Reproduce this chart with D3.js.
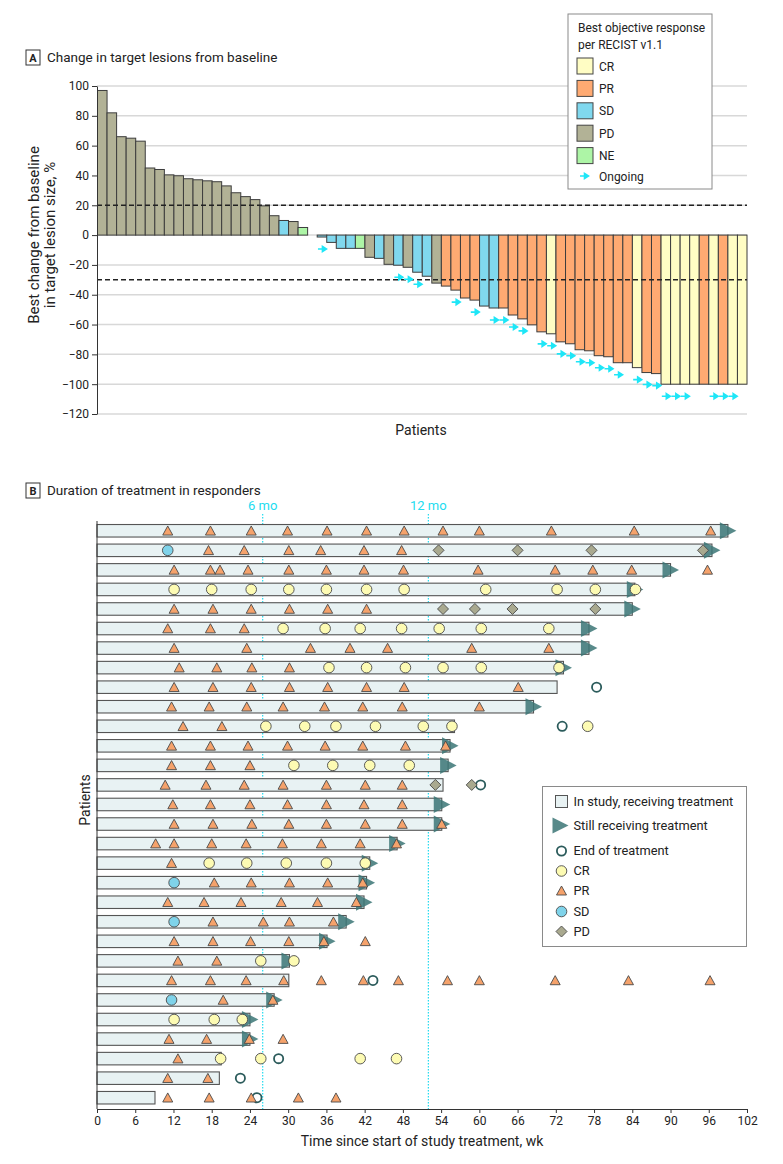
<!DOCTYPE html>
<html>
<head>
<meta charset="utf-8">
<script src="https://cdn.jsdelivr.net/npm/d3@7"></script>
<style>
body { margin: 0; background: #fff; }
svg text { font-family: Roboto, "Liberation Sans", sans-serif; fill: #222; }
</style>
</head>
<body>
<div id="vis-svg"></div>
<script>
var width = 783;
var height = 1164;

// ---- panel A: best change in target lesions (one value per patient) ----
var changePct = [97, 82, 66, 65, 63, 45, 44, 40.4, 39.8, 37.8, 37.1, 36.4, 35.8, 33, 28.4, 25.8, 23.8, 19.6, 13, 9.8, 9.1, 5.1, 0,
  -1.3, -4.9, -8.9, -8.9, -8.9, -14.9, -15.6, -19.6, -20.2, -21.6, -24.9, -27.6, -32.2, -34.2, -36.9, -42.2, -43.6, -47.6, -48.9,
  -48.9, -53.6, -56.2, -60.2, -64.9, -66.2, -71.6, -72.9, -76.9, -77.6, -80.9, -81.6, -85.6, -85.6, -88.9, -92.2, -92.9,
  -100, -100, -100, -100, -100, -100, -100, -100, -100];
var bestResponse = ["PD","PD","PD","PD","PD","PD","PD","PD","PD","PD","PD","PD","PD","PD","PD","PD","PD","PD","PD","SD","PD","NE","SD",
  "SD","SD","SD","SD","NE","PD","SD","PD","SD","PD","SD","SD","PD","PR","PR","PR","PR","SD","SD",
  "PR","PR","PR","PR","PR","CR","PR","PR","PR","PR","PR","PR","PR","PR","CR","PR","PR",
  "CR","CR","CR","CR","PR","CR","PR","CR","CR"];
var ongoingPatients = [24, 32, 33, 34, 38, 40, 42, 43, 44, 45, 47, 48, 49, 50, 51, 52, 53, 54, 55, 57, 58, 59, 60, 61, 62, 65, 66, 67];
var yTicksA = [-120, -100, -80, -60, -40, -20, 0, 20, 40, 60, 80, 100];
var cutoffs = [20, -30];
var responseCats = ["CR", "PR", "SD", "PD", "NE"];
var responseColors = ["#fffdc4", "#ffaa72", "#80d8ee", "#b2b296", "#adf5a6"];

// ---- panel B: duration of treatment in responders ----
var durationWk = [99, 96.5, 90, 84.4, 84, 77.2, 77.2, 73.2, 72.2, 68.5, 56.1, 55.4, 55.1, 54.3, 54.1, 54.1, 47.1, 42.8, 42.3, 41.9,
  39.1, 36.1, 30.2, 30.1, 27.8, 24, 24, 19.5, 19.2, 9.1];
var stillOnTx = [1, 1, 1, 1, 1, 1, 1, 1, 0, 1, 0, 1, 1, 0, 1, 1, 1, 1, 1, 1, 1, 1, 1, 0, 1, 1, 1, 0, 0, 0];
var endOfTxWk = [null, null, null, null, null, null, null, null, 78.4, null, 73, null, null, 60.2, null, null, null, null, null, null,
  null, null, null, 43.3, null, null, null, 28.5, 22.5, 25.1];
var crWeeks = [[], [], [], [12.1, 18, 24.2, 30.1, 36, 42.3, 48.2, 61, 72.2, 78.2, 84.5], [], [29.2, 35.8, 41.3, 47.8, 53.7, 60.3, 70.9], [],
  [36.4, 42.3, 48.4, 54.3, 60.3, 72.5], [], [], [26.5, 32.6, 37.5, 43.7, 51.2, 55.7, 77], [], [30.9, 37, 42.8, 49], [], [], [], [],
  [17.6, 23.5, 29.7, 36, 42.1], [], [], [], [], [25.7, 30.9], [], [], [12.1, 18.4, 22.8], [], [19.4, 25.7, 41.3, 47], [], []];
var prWeeks = [[11.1, 17.8, 24.2, 29.9, 36.1, 42.3, 48.2, 54.3, 60, 71.3, 84.3, 96.3],
  [17.5, 23.1, 30.1, 35.1, 41.9, 47.8],
  [12.1, 17.8, 19.3, 23.7, 30.1, 36, 41.9, 48.1, 59.8, 71.9, 77.8, 83.9, 95.8],
  [],
  [12.1, 18.2, 24.2, 30.2, 36.2, 42.3],
  [11.1, 17.8, 23.1],
  [12.1, 23.5, 33.5, 39.7, 45.6, 58.8, 70.9],
  [12.9, 18.8, 24.3, 30.2],
  [12.1, 18.2, 24.2, 30.2, 36.2, 42.3, 48.2, 66.1],
  [11.7, 17.6, 23.5, 29.2, 35.7, 41.7, 47.9, 60],
  [13.5, 19.6],
  [11.7, 17.8, 23.7, 29.9, 35.8, 41.7, 48.4, 54.7],
  [11.7, 17.8, 24],
  [10.7, 17.1, 23.1, 29.2, 36, 42.1, 47.9],
  [11.9, 17.8, 24, 29.9, 36, 41.9, 47.9],
  [12.1, 18.2, 24.3, 30.1, 36, 42.1, 47.9, 54.1],
  [9.2, 12.1, 18, 23.4, 29.1, 35.2, 41.3, 47],
  [11.7],
  [18.4, 24.2, 30.2, 36.2, 41.7],
  [11.1, 16.8, 22.6, 28.9, 34.6, 40.7],
  [18.2, 26.1, 30.2, 37.1],
  [12.1, 18.2, 24.1, 30.1, 35.6, 42.1],
  [12.7, 18.8],
  [11.7, 17.8, 23.4, 29.3, 35.2, 41.8, 47.3, 55, 60, 71.9, 83.4, 96.2],
  [19.8, 27.6],
  [],
  [11.3, 17.2, 23.9, 29.2],
  [12.7],
  [11.1, 17.4],
  [11.1, 17.6, 24.2, 31.6, 37.5]];
var sdWeeks = [[], [11.1], [], [], [], [], [], [], [], [], [], [], [], [], [], [], [], [], [12.1], [], [12.1], [], [], [], [11.7], [], [], [], [], []];
var pdWeeks = [[], [53.6, 66, 77.6, 95.1], [], [], [54.3, 59.3, 65.2, 78.2], [], [], [], [], [], [], [], [], [53.1, 58.8], [], [], [], [], [], [],
  [], [], [], [], [], [], [], [], [], []];
var xTicksB = [0, 6, 12, 18, 24, 30, 36, 42, 48, 54, 60, 66, 72, 78, 84, 90, 96, 102];
var monthMarks = [26, 52];
var monthLabels = ["6 mo", "12 mo"];

var svg = d3
.select("#vis-svg")
.append("svg")
.attr("width", width)
.attr("height", height);

// ================= panel A =================
var xA = d3.scaleBand().domain(d3.range(changePct.length)).range([97.5, 747]).paddingInner(0);
var yA = d3.scaleLinear().domain([-120, 100]).range([414, 86]);
var colorA = d3.scaleOrdinal().domain(responseCats).range(responseColors);

var gA = svg.append("g").attr("class", "panelA");

// panel label
gA.append("rect").attr("x", 26).attr("y", 50).attr("width", 14).attr("height", 15)
.attr("fill", "#fff").attr("stroke", "#333").attr("stroke-width", 1);
gA.append("text").attr("x", 33).attr("y", 62).attr("text-anchor", "middle")
.style("font-size", "11px").style("font-weight", "bold").text("A");
gA.append("text").attr("x", 47).attr("y", 62).style("font-size", "13.5px")
.text("Change in target lesions from baseline");

// grid
gA.selectAll("line.grid").data(yTicksA).enter().append("line")
.attr("class", "grid")
.attr("x1", 97).attr("x2", 747)
.attr("y1", function(d) { return yA(d); }).attr("y2", function(d) { return yA(d); })
.attr("stroke", "#d8d8d8").attr("stroke-width", 1.5);

// bars
gA.selectAll("rect.bar").data(changePct).enter().append("rect")
.attr("class", "bar")
.attr("x", function(d, i) { return xA(i); })
.attr("width", xA.bandwidth())
.attr("y", function(d) { return yA(Math.max(0, d)); })
.attr("height", function(d) { return Math.abs(yA(d) - yA(0)); })
.attr("fill", function(d, i) { return colorA(bestResponse[i]); })
.attr("stroke", "#3d3d3d").attr("stroke-width", 1);

// cutoff lines
gA.selectAll("line.cut").data(cutoffs).enter().append("line")
.attr("class", "cut")
.attr("x1", 97).attr("x2", 747)
.attr("y1", function(d) { return yA(d); }).attr("y2", function(d) { return yA(d); })
.attr("stroke", "#222").attr("stroke-width", 1.4).attr("stroke-dasharray", "5,3");

// ongoing arrows
function arrowPath(cx, cy) {
  return "M" + (cx - 4) + "," + cy + "H" + (cx + 0.5) +
    "M" + (cx + 0.5) + "," + (cy - 2.6) + "L" + (cx + 4.5) + "," + cy + "L" + (cx + 0.5) + "," + (cy + 2.6) + "Z";
}
gA.selectAll("path.ongo").data(ongoingPatients).enter().append("path")
.attr("class", "ongo")
.attr("d", function(p) {
  var i = p - 1;
  return arrowPath(xA(i) + xA.bandwidth() / 2, yA(Math.min(0, changePct[i])) + 12);
})
.attr("fill", "#1ee6f7").attr("stroke", "#1ee6f7").attr("stroke-width", 1.6);

// y axis
var axisA = gA.append("g").attr("transform", "translate(97,0)")
.call(d3.axisLeft(yA).tickValues(yTicksA).tickSize(5).tickSizeOuter(0));
axisA.selectAll("text").style("font-size", "12px").attr("fill", "#222");
axisA.selectAll("path, line").attr("stroke", "#333");

var yTitleA = gA.append("text").attr("transform", "translate(34,235) rotate(-90)")
.attr("text-anchor", "middle").style("font-size", "15px");
yTitleA.append("tspan").attr("x", 0).attr("dy", "0.35em").text("Best change from baseline");
yTitleA.append("tspan").attr("x", 0).attr("dy", "1.07em").text("in target lesion size, %");

gA.append("text").attr("x", 421).attr("y", 435).attr("text-anchor", "middle")
.style("font-size", "14px").text("Patients");

// legend A
var legA = gA.append("g").attr("transform", "translate(568,14)");
legA.append("rect").attr("width", 144).attr("height", 175)
.attr("fill", "#fff").attr("stroke", "#8a8a8a").attr("stroke-width", 1);
legA.append("text").attr("x", 10).attr("y", 18).style("font-size", "12px").text("Best objective response");
legA.append("text").attr("x", 10).attr("y", 35).style("font-size", "12px").text("per RECIST v1.1");
var legRows = legA.selectAll("g.item").data(responseCats).enter().append("g")
.attr("class", "item")
.attr("transform", function(d, i) { return "translate(9," + (44 + i * 22.4) + ")"; });
legRows.append("rect").attr("width", 16).attr("height", 16)
.attr("fill", function(d) { return colorA(d); }).attr("stroke", "#444");
legRows.append("text").attr("x", 22).attr("y", 12.5).style("font-size", "12px").text(function(d) { return d; });
legA.append("path").attr("d", arrowPath(16, 162))
.attr("fill", "#1ee6f7").attr("stroke", "#1ee6f7").attr("stroke-width", 1.6);
legA.append("text").attr("x", 31).attr("y", 166.5).style("font-size", "12px").text("Ongoing");

// ================= panel B =================
var xB = d3.scaleLinear().domain([0, 102]).range([97, 747]);
var yB = d3.scaleBand().domain(d3.range(durationWk.length)).range([521, 1107.5]).paddingInner(0.36).paddingOuter(0.18);
var barH = yB.bandwidth();
function rowMid(i) { return yB(i) + barH / 2; }

var gB = svg.append("g").attr("class", "panelB");

gB.append("rect").attr("x", 26).attr("y", 483).attr("width", 14).attr("height", 15)
.attr("fill", "#fff").attr("stroke", "#333").attr("stroke-width", 1);
gB.append("text").attr("x", 33).attr("y", 495).attr("text-anchor", "middle")
.style("font-size", "11px").style("font-weight", "bold").text("B");
gB.append("text").attr("x", 47).attr("y", 495).style("font-size", "13.5px")
.text("Duration of treatment in responders");

// month reference lines
gB.selectAll("line.mo").data(monthMarks).enter().append("line")
.attr("class", "mo")
.attr("x1", function(d) { return xB(d); }).attr("x2", function(d) { return xB(d); })
.attr("y1", 514).attr("y2", 1109)
.attr("stroke", "#22dcf0").attr("stroke-width", 1.2).attr("stroke-dasharray", "1.5,1.5");
gB.selectAll("text.mo").data(monthMarks).enter().append("text")
.attr("class", "mo")
.attr("x", function(d) { return xB(d); }).attr("y", 510)
.attr("text-anchor", "middle").style("font-size", "13px").style("fill", "#22dcf0")
.text(function(d, i) { return monthLabels[i]; });

// treatment bars
gB.selectAll("rect.dur").data(durationWk).enter().append("rect")
.attr("class", "dur")
.attr("x", xB(0))
.attr("y", function(d, i) { return yB(i); })
.attr("width", function(d) { return xB(d) - xB(0); })
.attr("height", barH)
.attr("fill", "#e8f2f3").attr("stroke", "#555").attr("stroke-width", 1.1);

// still receiving treatment
var stillRows = d3.range(durationWk.length).filter(function(i) { return stillOnTx[i]; });
gB.selectAll("path.still").data(stillRows).enter().append("path")
.attr("class", "still")
.attr("d", function(i) {
  var x = xB(durationWk[i]), y = rowMid(i);
  return "M" + (x - 8) + "," + (y - 8.5) + "L" + (x + 8.5) + "," + y + "L" + (x - 8) + "," + (y + 8.5) + "Z";
})
.attr("fill", "#3b7575").attr("fill-opacity", 0.85);

// flatten assessment weeks into points
function flatten(list) {
  var out = [];
  list.forEach(function(weeks, i) {
    weeks.forEach(function(w) { out.push({ row: i, wk: w }); });
  });
  return out;
}

// end of treatment
var endRows = d3.range(durationWk.length).filter(function(i) { return endOfTxWk[i] !== null; });
gB.selectAll("circle.eot").data(endRows).enter().append("circle")
.attr("class", "eot")
.attr("cx", function(i) { return xB(endOfTxWk[i]); })
.attr("cy", function(i) { return rowMid(i); })
.attr("r", 4.6)
.attr("fill", "none").attr("stroke", "#2b5b5b").attr("stroke-width", 1.8);

gB.selectAll("path.pr").data(flatten(prWeeks)).enter().append("path")
.attr("class", "pr")
.attr("d", function(d) {
  var x = xB(d.wk), y = rowMid(d.row);
  return "M" + (x - 5) + "," + (y + 4.3) + "L" + (x + 5) + "," + (y + 4.3) + "L" + x + "," + (y - 4.8) + "Z";
})
.attr("fill", "#f5a26b").attr("stroke", "#4a4a4a").attr("stroke-width", 0.9);

gB.selectAll("circle.cr").data(flatten(crWeeks)).enter().append("circle")
.attr("class", "cr")
.attr("cx", function(d) { return xB(d.wk); })
.attr("cy", function(d) { return rowMid(d.row); })
.attr("r", 5.3)
.attr("fill", "#fdfbb3").attr("stroke", "#4a4a4a").attr("stroke-width", 0.9);

gB.selectAll("circle.sd").data(flatten(sdWeeks)).enter().append("circle")
.attr("class", "sd")
.attr("cx", function(d) { return xB(d.wk); })
.attr("cy", function(d) { return rowMid(d.row); })
.attr("r", 5.3)
.attr("fill", "#7fd3ea").attr("stroke", "#4a4a4a").attr("stroke-width", 0.9);

gB.selectAll("path.pd").data(flatten(pdWeeks)).enter().append("path")
.attr("class", "pd")
.attr("d", function(d) {
  var x = xB(d.wk), y = rowMid(d.row);
  return "M" + x + "," + (y - 5.5) + "L" + (x + 5.5) + "," + y + "L" + x + "," + (y + 5.5) + "L" + (x - 5.5) + "," + y + "Z";
})
.attr("fill", "#a9a98f").attr("stroke", "#4a4a4a").attr("stroke-width", 0.9);

// axes
gB.append("line").attr("x1", 97).attr("x2", 97).attr("y1", 521).attr("y2", 1109)
.attr("stroke", "#333").attr("stroke-width", 1);
var axisB = gB.append("g").attr("transform", "translate(0,1109)")
.call(d3.axisBottom(xB).tickValues(xTicksB).tickSize(4).tickSizeOuter(0));
axisB.selectAll("text").style("font-size", "12px").attr("fill", "#222");
axisB.selectAll("path, line").attr("stroke", "#333");

gB.append("text").attr("x", 422).attr("y", 1146).attr("text-anchor", "middle")
.style("font-size", "14px").text("Time since start of study treatment, wk");
gB.append("text").attr("transform", "translate(85,800) rotate(-90)").attr("dy", "0.35em")
.attr("text-anchor", "middle").style("font-size", "14px").text("Patients");

// legend B
var legB = gB.append("g").attr("transform", "translate(542.5,786.5)");
legB.append("rect").attr("width", 204).attr("height", 160)
.attr("fill", "#fff").attr("stroke", "#8a8a8a").attr("stroke-width", 1);
legB.append("rect").attr("x", 13).attr("y", 9).attr("width", 12).attr("height", 12)
.attr("fill", "#e8f2f3").attr("stroke", "#555");
legB.append("path").attr("d", "M10,31L26,39L10,47Z").attr("fill", "#3b7575").attr("fill-opacity", 0.85);
legB.append("circle").attr("cx", 19).attr("cy", 64.5).attr("r", 4.6)
.attr("fill", "none").attr("stroke", "#2b5b5b").attr("stroke-width", 1.8);
legB.append("circle").attr("cx", 19).attr("cy", 84.5).attr("r", 5.3)
.attr("fill", "#fdfbb3").attr("stroke", "#4a4a4a").attr("stroke-width", 0.9);
legB.append("path").attr("d", "M14,108.5L24,108.5L19,99.5Z")
.attr("fill", "#f5a26b").attr("stroke", "#4a4a4a").attr("stroke-width", 0.9);
legB.append("circle").attr("cx", 19).attr("cy", 125).attr("r", 5.3)
.attr("fill", "#7fd3ea").attr("stroke", "#4a4a4a").attr("stroke-width", 0.9);
legB.append("path").attr("d", "M19,139.5L24.5,145L19,150.5L13.5,145Z")
.attr("fill", "#a9a98f").attr("stroke", "#4a4a4a").attr("stroke-width", 0.9);
var legBLabels = ["In study, receiving treatment", "Still receiving treatment", "End of treatment", "CR", "PR", "SD", "PD"];
var legBY = [15, 39, 64.5, 84.5, 104.5, 125, 145];
legB.selectAll("text.lb").data(legBLabels).enter().append("text")
.attr("class", "lb")
.attr("x", 31).attr("y", function(d, i) { return legBY[i]; }).attr("dy", "0.35em")
.style("font-size", "12.8px").text(function(d) { return d; });
</script>
</body>
</html>
